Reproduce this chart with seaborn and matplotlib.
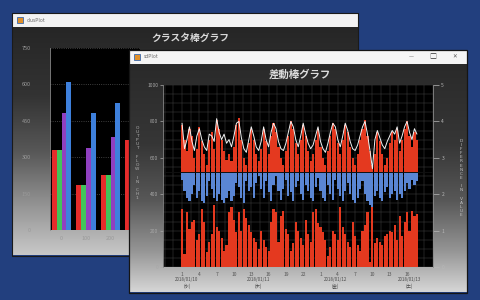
import numpy as np
import pandas as pd
import seaborn as sns
import matplotlib
matplotlib.use("Agg")
from matplotlib import pyplot as plt
from matplotlib.patches import Rectangle
from matplotlib.colors import LinearSegmentedColormap
from matplotlib.ticker import MultipleLocator

sns.set_style("dark")
plt.rcParams['font.family'] = ['Noto Sans CJK JP', 'DejaVu Sans']

W, H = 481, 300

# ---- back window: clustered bars ----
back_groups = ['0', '100', '200', '300']
back_series = ['A', 'B', 'C', 'D']
back_a = [330, 185, 227, 371]
back_b = [330, 185, 227, 371]
back_c = [482, 338, 383, 520]
back_d = [610, 482, 523, 640]
back_colors = ['#e62b2b', '#41c45a', '#9040c0', '#3e80dc']
back_yticks = [0, 150, 300, 450, 600, 750]

# ---- front window: differential bars ----
baseline = 520
upper_top = [780, 700, 640, 760, 720, 600, 650, 770,
             690, 620, 560, 700, 740, 650, 810, 760,
             700, 640, 590, 620, 580, 660, 780, 820,
             700, 600, 560, 680, 760, 700, 620, 580,
             650, 760, 690, 620, 720, 790, 740, 660,
             600, 560, 640, 720, 800, 760, 680, 620,
             700, 780, 720, 640, 580, 620, 700, 760,
             660, 600, 560, 640, 720, 790, 760, 680,
             620, 700, 780, 740, 660, 600, 560, 620,
             700, 760, 810, 720, 640, 560, 620, 740,
             690, 620, 560, 600, 680, 740, 700, 760,
             640, 700, 760, 800, 720, 660, 740, 700]
blue_bottom = [480, 420, 380, 360, 400, 450, 380, 420,
               360, 350, 390, 470, 430, 380, 360, 400,
               370, 350, 380, 420, 360, 390, 460, 440,
               380, 350, 470, 420, 440, 380, 460, 500,
               430, 380, 470, 410, 360, 450, 500, 420,
               370, 430, 480, 390, 410, 360, 440, 470,
               400, 370, 450, 420, 380, 360, 440, 490,
               420, 380, 360, 450, 400, 370, 480, 430,
               390, 360, 420, 460, 400, 370, 350, 380,
               430, 470, 400, 360, 340, 330, 390, 420,
               380, 360, 410, 440, 380, 400, 420, 370,
               400, 380, 420, 460, 430, 480, 450, 470]
white_line = [790, 650, 700, 770, 690, 640, 720, 760,
              700, 660, 640, 730, 720, 690, 815, 740,
              700, 730, 680, 700, 660, 720, 790, 800,
              710, 650, 630, 700, 770, 720, 660, 640,
              690, 770, 700, 660, 740, 790, 760, 690,
              650, 640, 680, 740, 800, 770, 700, 660,
              720, 790, 730, 680, 650, 670, 720, 770,
              690, 650, 630, 680, 740, 790, 770, 700,
              660, 720, 790, 750, 690, 650, 640, 670,
              720, 770, 800, 730, 640, 540, 700, 750,
              710, 670, 650, 690, 720, 750, 730, 770,
              680, 720, 770, 800, 740, 700, 760, 730]
lower_red = [320, 70, 300, 210, 250, 260, 150, 180,
             320, 250, 80, 140, 180, 340, 220, 200,
             160, 90, 120, 300, 330, 260, 190, 300,
             200, 320, 270, 230, 190, 160, 140, 100,
             200, 150, 110, 90, 250, 320, 300, 140,
             280, 310, 210, 180, 90, 130, 250, 200,
             160, 120, 260, 180, 140, 300, 320, 240,
             220, 190, 150, 60, 110, 200, 180, 150,
             330, 220, 180, 140, 110, 250, 170, 120,
             90, 200, 230, 300, 30, 340, 130, 160,
             140, 120, 170, 180, 200, 190, 230, 150,
             280, 170, 250, 300, 200, 310, 280, 290]
left_ticks = [0, 200, 400, 600, 800, 1000]
right_ticks = [0, 1, 2, 3, 4, 5]
x_tick_pos = [0, 7, 14, 21, 28, 35, 42, 49, 56, 63, 70, 77, 84, 91]
x_tick_labels = ['1', '4', '7', '10', '13', '16', '19', '22',
                 '1', '4', '7', '10', '13', '16']
date_pos = [2, 31, 62, 92]
date_labels = ['2018/01/10\n(水)', '2018/01/11\n(木)',
               '2018/01/12\n(金)', '2018/01/13\n(土)']

front_red = '#e4391f'
front_blue = '#5a86d4'


def box(x0, y0, x1, y1):
    return [x0 / W, 1 - y1 / H, (x1 - x0) / W, (y1 - y0) / H]


grad = np.linspace(0, 1, 256)[:, None]
back_cmap = LinearSegmentedColormap.from_list(
    'backwin', [(0, '#262626'), (0.3, '#333333'), (0.55, '#585858'),
                (0.78, '#939393'), (1, '#c8c8c8')])
front_cmap = LinearSegmentedColormap.from_list(
    'frontwin', [(0, '#2a2a2a'), (0.35, '#363636'), (0.6, '#585858'),
                 (0.82, '#959595'), (1, '#d6d6d6')])

fig = plt.figure(figsize=(W / 100, H / 100), dpi=100)
fig.patch.set_facecolor('#223f7e')

# desktop and back window frame
bg = fig.add_axes([0, 0, 1, 1], zorder=0)
bg.axis('off')
bg.imshow(grad, extent=[13, 358, 255, 27], cmap=back_cmap, aspect='auto', zorder=0)
bg.add_patch(Rectangle((13, 13), 345, 14, facecolor='#f3f3f3', edgecolor='none', zorder=1))
bg.add_patch(Rectangle((12.5, 12.5), 346, 243, facecolor='none', edgecolor='#1a1a1a', lw=0.8, zorder=2))
bg.add_patch(Rectangle((17, 17), 6, 6, facecolor='#e0902a', edgecolor='#3a6ab0', lw=0.6, zorder=2))
bg.text(27, 20, 'clusPlot', fontsize=3.5, color='#666666', va='center')
bg.text(190, 38, 'クラスタ棒グラフ', fontsize=7, color='#d8d8d8', ha='center', va='center',
        fontweight='bold')
bg.set_xlim(0, W)
bg.set_ylim(H, 0)

# back chart
ax_b = fig.add_axes(box(50, 48, 140, 230), zorder=1)
back_df = pd.DataFrame({
    'group': back_groups * 4,
    'series': np.repeat(back_series, len(back_groups)),
    'value': back_a + back_b + back_c + back_d,
})
sns.barplot(data=back_df, x='group', y='value', hue='series', palette=back_colors,
            saturation=1, width=0.8, linewidth=0, legend=False, ax=ax_b)
ax_b.set_facecolor('black')
ax_b.set_xlim(-0.47, 3.2)
ax_b.set_ylim(0, 750)
ax_b.set_yticks(back_yticks)
ax_b.set_yticklabels([str(v) for v in back_yticks])
ax_b.yaxis.grid(True, color='#555555', ls=':', lw=0.6)
ax_b.set_axisbelow(True)
ax_b.set_xlabel('')
ax_b.set_ylabel('')
ax_b.tick_params(axis='both', labelsize=4, colors='#9a9a9a', length=2, width=0.5, pad=2)
ax_b.tick_params(axis='y', pad=12)
for s in ['top', 'right', 'bottom']:
    ax_b.spines[s].set_visible(False)
ax_b.spines['left'].set_color('#8a8a8a')
ax_b.spines['left'].set_linewidth(0.6)

# front window frame
fw = fig.add_axes([0, 0, 1, 1], zorder=2)
fw.patch.set_alpha(0)
fw.axis('off')
fw.imshow(grad, extent=[130, 467, 292, 64], cmap=front_cmap, aspect='auto', zorder=0)
fw.add_patch(Rectangle((130, 50), 337, 14, facecolor='#f5f5f5', edgecolor='none', zorder=1))
fw.add_patch(Rectangle((129.5, 49.5), 338, 243, facecolor='none', edgecolor='#151515', lw=0.9, zorder=2))
fw.add_patch(Rectangle((134, 54), 6, 6, facecolor='#e0902a', edgecolor='#3a6ab0', lw=0.6, zorder=2))
fw.text(144, 57, 'sdPlot', fontsize=3.5, color='#666666', va='center')
fw.text(411, 56.5, '—', fontsize=4, color='#555555', ha='center', va='center')
fw.text(433, 57, '□', fontsize=5, color='#333333', ha='center', va='center')
fw.text(455, 57, '✕', fontsize=4, color='#555555', ha='center', va='center', family='DejaVu Sans')
fw.text(300, 75, '差動棒グラフ', fontsize=7.5, color='#dcdcdc', ha='center', va='center',
        fontweight='bold')
fw.text(137, 163, '\n'.join('OUTPUT FLOW IN CH1'), fontsize=3.2, color='#b0b0b0',
        ha='center', va='center', linespacing=1.05, family='DejaVu Sans')
fw.text(461, 178, '\n'.join('DIFFERENCE IN VALUE'), fontsize=3.2, color='#c0c0c0',
        ha='center', va='center', linespacing=1.05, family='DejaVu Sans')
fw.set_xlim(0, W)
fw.set_ylim(H, 0)

# front chart
ax_f = fig.add_axes(box(163, 85, 433, 267), zorder=3)
idx = np.arange(len(upper_top))
sns.barplot(x=idx, y=np.array(lower_red), color=front_red, saturation=1,
            width=0.85, linewidth=0, ax=ax_f)
sns.barplot(x=idx, y=np.array(upper_top) - baseline, bottom=baseline, color=front_red,
            saturation=1, width=0.85, linewidth=0, ax=ax_f)
sns.barplot(x=idx, y=np.array(blue_bottom) - baseline, bottom=baseline, color=front_blue,
            saturation=1, width=0.85, linewidth=0, ax=ax_f)
sns.lineplot(x=idx, y=white_line, color='#f2f2f2', lw=0.7, ax=ax_f)
ax_f.axhline(baseline, color='#101010', lw=0.7)
ax_f.set_facecolor('black')
ax_f.set_xlim(-7.7, 101.5)
ax_f.set_ylim(0, 1000)
ax_f.set_xticks(x_tick_pos)
ax_f.set_xticklabels(x_tick_labels)
ax_f.set_yticks(left_ticks)
ax_f.set_yticklabels([str(v) for v in left_ticks])
ax_f.xaxis.set_minor_locator(MultipleLocator(3.5))
ax_f.yaxis.set_minor_locator(MultipleLocator(50))
ax_f.grid(True, which='both', color='#444444', lw=0.35)
ax_f.set_axisbelow(True)
ax_f.set_xlabel('')
ax_f.set_ylabel('')
ax_f.tick_params(axis='x', labelsize=3.5, colors='#555555', length=2, width=0.5, pad=1.5)
ax_f.tick_params(axis='y', labelsize=3.5, colors='#a8a8a8', length=2, width=0.5, pad=1.5)
ax_f.tick_params(which='minor', length=0)
for s in ['top', 'right', 'bottom']:
    ax_f.spines[s].set_visible(False)
ax_f.spines['left'].set_color('#8a8a8a')
ax_f.spines['left'].set_linewidth(0.6)

ax_r = ax_f.twinx()
ax_r.set_zorder(4)
ax_r.set_ylim(0, 5)
ax_r.set_yticks(right_ticks)
ax_r.set_yticklabels([str(v) for v in right_ticks])
ax_r.tick_params(axis='y', labelsize=3.5, colors='#b8b8b8', length=4, width=0.5, pad=2)
for s in ['top', 'left', 'bottom']:
    ax_r.spines[s].set_visible(False)
ax_r.spines['right'].set_color('#8a8a8a')
ax_r.spines['right'].set_linewidth(0.6)

# date labels under the x axis
for pos, lab in zip(date_pos, date_labels):
    xp = 182 + pos * 2.474
    fw.text(xp, 283, lab, fontsize=3.2, color='#4a4a4a', ha='center', va='center',
            linespacing=1.3)

fig.savefig('out.png', dpi=100, facecolor=fig.get_facecolor())
plt.close()
